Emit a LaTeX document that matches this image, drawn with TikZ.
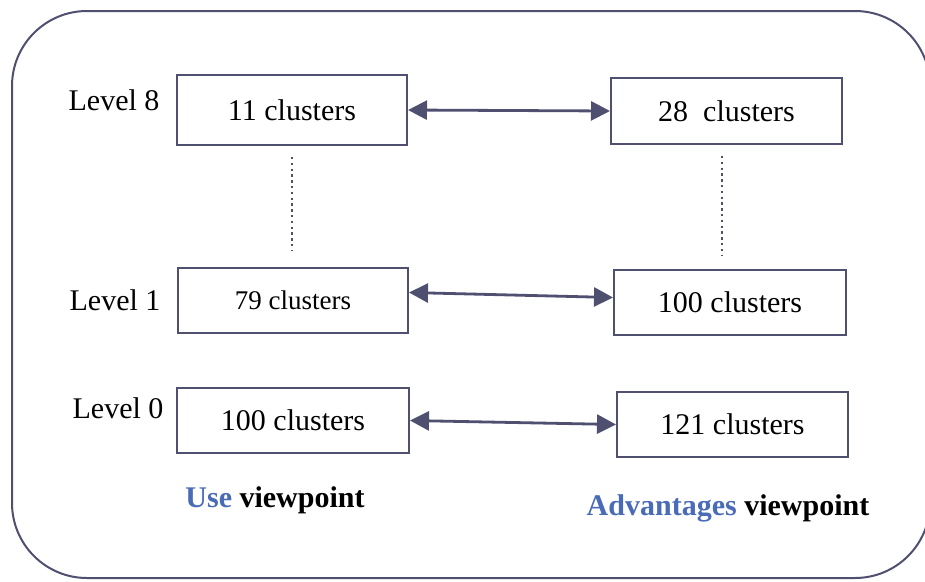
\documentclass[tikz,border=0pt]{standalone}
\usepackage{fontspec}
\setmainfont{Liberation Serif}
\usepackage{xcolor}
\usetikzlibrary{arrows.meta}

\definecolor{framegray}{HTML}{4F5070}
\definecolor{useblue}{HTML}{4A6CB6}

\begin{document}
\begin{tikzpicture}[
  x=1pt, y=-1pt,
  clusterbox/.style={rectangle, draw=framegray, line width=2pt, inner sep=0pt,
    minimum height=65pt, font=\fontsize{30}{36}\selectfont},
  levellabel/.style={font=\fontsize{30}{36}\selectfont},
  viewlabel/.style={font=\fontsize{30}{36}\selectfont\bfseries},
  link/.style={draw=framegray, line width=2.8pt,
    {Triangle[length=19pt,width=19pt]}-{Triangle[length=19pt,width=19pt]}},
  dots/.style={draw=framegray, line width=2.6pt, dash pattern=on 2.4pt off 3.4pt}
]
  \useasboundingbox (0,0) rectangle (925,581);
  \draw[framegray, line width=2pt, rounded corners=75pt] (12,11) rectangle (930,578);

  % left column
  \node[clusterbox, minimum width=230pt, minimum height=70pt] (a8) at (292,110) {11 clusters};
  \node[clusterbox, minimum width=230pt, font=\fontsize{27}{32}\selectfont] (a1) at (293,300.5) {79 clusters};
  \node[clusterbox, minimum width=232pt] (a0) at (293,420.5) {100 clusters};

  % right column
  \node[clusterbox, minimum width=231pt, minimum height=66pt] (b8) at (726.5,111) {28~~clusters};
  \node[clusterbox, minimum width=232pt] (b1) at (730,302.5) {100 clusters};
  \node[clusterbox, minimum width=231pt] (b0) at (732.5,424.5) {121 clusters};

  % levels
  \node[levellabel] (l8) at (114,100) {Level 8};
  \node[levellabel] (l1) at (115,300) {Level 1};
  \node[levellabel] (l0) at (118,408) {Level 0};

  % links
  \draw[link] (a8.east) -- (b8.west);
  \draw[link] ([yshift=8pt]a1.east) -- ([yshift=5pt]b1.west);
  \draw[link] (a0.east) -- (b0.west);

  \draw[dots, shorten <=11pt, shorten >=17pt] (a8.south) -- (a8.south |- a1.north);
  \draw[dots, shorten <=11pt, shorten >=14pt] (b8.south -| 722,0) -- (b1.north -| 722,0);

  \node[viewlabel] (uv) at (275,500) {\textcolor{useblue}{Use} viewpoint};
  \node[viewlabel] (av) at (728,508) {\textcolor{useblue}{Advantages} viewpoint};
\end{tikzpicture}
\end{document}
